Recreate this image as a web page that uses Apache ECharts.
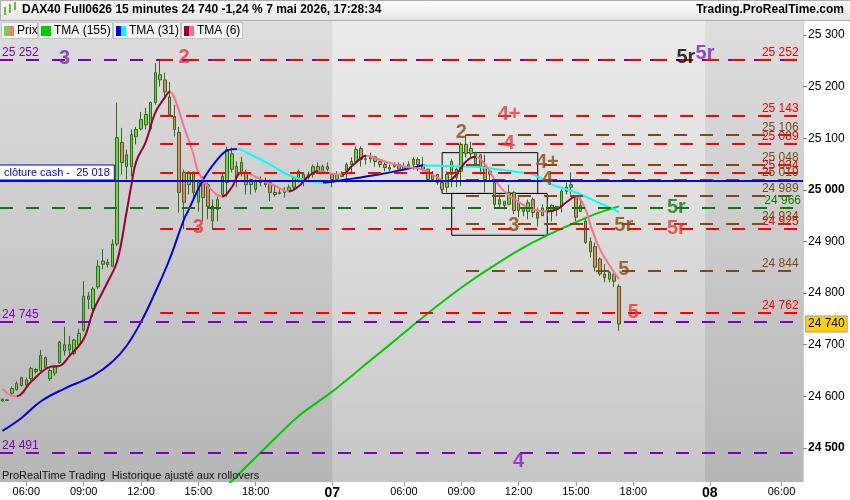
<!DOCTYPE html>
<html><head><meta charset="utf-8">
<script src="https://cdn.jsdelivr.net/npm/echarts@6/dist/echarts.min.js"></script>
<style>html,body{margin:0;padding:0;background:#fff}#c{width:850px;height:500px}</style>
</head><body><div id="c"></div>
<script>
// ---------- DATA ----------
const sessions = [
  { day: '06', start: '04:45', end: '21:45' },
  { day: '07', start: '02:15', end: '21:45' },
  { day: '08', start: '02:15', end: '07:00' }
];
const shownTimes = ['06:00', '09:00', '12:00', '15:00', '18:00'];
const priceTicks = [24500, 24600, 24700, 24800, 24900, 25000, 25100, 25200, 25300];

const open = [24591,24592,24606,24613,24636,24622,24634,24652,24650,24675,24634,24645,24665,24700,24690,24683,24700,24728,24794,24770,24812,24856,24860,24852,24895,25092,25045,25045,25103,25118,25126,25118,25169,25213,25213,25180,25142,25111,25034,25010,25034,24976,25014,25010,24968,24962,24991,25014,25040,25045,25034,25034,25010,25001,25014,25018,25014,24995,24993,24995,24999,25005,25018,25030,25024,25030,25045,25036,25045,25030,25020,25030,25036,25049,25055,25080,25059,25060,25064,25055,25049,25043,25045,25049,25040,25045,25049,25059,25049,25040,25020,25030,25014,25005,25030,25040,25036,25088,25070,25050,25068,25045,25030,25014,24972,24978,24972,24995,24960,24965,24958,24981,24956,24950,24965,24958,24968,24968,24997,25005,24987,24958,24939,24900,24890,24866,24837,24827,24837,24813];
const close = [24594,24593,24615,24625,24621,24632,24654,24648,24679,24655,24650,24657,24705,24688,24700,24709,24722,24794,24788,24808,24852,24862,24855,24895,25101,25053,25068,25107,25117,25136,25146,25169,25227,25223,25190,25146,25117,24995,24976,25034,24995,25014,24985,24968,24940,24981,25026,25078,25070,25024,25053,25010,25020,25016,25018,25010,24995,24991,24995,24999,25005,25024,25036,25020,25030,25045,25036,25045,25040,25020,25030,25026,25049,25055,25078,25059,25060,25064,25055,25049,25043,25040,25049,25040,25045,25049,25059,25049,25040,25020,25030,25014,25001,25030,25055,25024,25088,25070,25080,25072,25045,25020,25036,24972,24981,24970,24995,24960,24975,24958,24975,24956,24945,24965,24958,24970,24962,24997,25005,25010,24947,24970,24898,24880,24850,24837,24830,24840,24823,24740];
const low = [24589,24591,24602,24611,24619,24619,24630,24644,24648,24652,24630,24640,24663,24679,24679,24679,24698,24725,24769,24754,24808,24846,24850,24850,24891,25030,25020,25026,25088,25115,25117,25115,25165,25200,25175,25142,25103,24956,24924,24991,24978,24958,24939,24943,24924,24939,24987,24987,25034,25005,25026,24991,24991,24995,25007,25005,24978,24987,24991,24985,24997,25001,25014,25007,25020,25024,25034,25034,25036,25005,25020,25024,25014,25034,25053,25045,25049,25053,25045,25043,25036,25036,25043,25036,25039,25043,25039,25036,25036,25016,25020,25010,24997,24995,25005,25005,25007,25063,25063,25043,25030,24995,25016,24966,24966,24962,24970,24953,24947,24949,24943,24947,24929,24949,24949,24939,24949,24956,24991,24991,24939,24958,24895,24869,24842,24833,24821,24821,24812,24727];
const high = [24596,24594,24619,24629,24638,24636,24657,24655,24690,24677,24654,24659,24707,24735,24717,24711,24731,24823,24802,24812,24864,24885,24866,24904,25169,25120,25078,25117,25122,25151,25159,25171,25246,25252,25227,25209,25165,25122,25039,25036,25036,25020,25026,25014,24981,24987,25034,25084,25082,25055,25064,25039,25022,25020,25026,25024,25020,25007,25001,25005,25010,25026,25039,25034,25036,25049,25053,25049,25053,25030,25036,25036,25053,25063,25084,25084,25068,25072,25064,25055,25053,25049,25053,25053,25053,25055,25063,25063,25064,25040,25036,25030,25020,25036,25059,25043,25092,25107,25093,25074,25068,25068,25043,25016,24991,24978,25010,24997,24987,24966,24981,24985,24966,24972,24978,24972,24968,25001,25014,25034,24987,24985,24947,24908,24898,24869,24856,24842,24837,24817];

// moving averages: [slot, value]
const tma155 = [[44,24400],[48,24436],[55,24500],[62,24562],[69,24609],[76,24662],[83,24715],[90,24768],[97,24817],[104,24860],[111,24898],[118,24929],[124,24953],[129,24968]];
const tma31 = [[0,24533],[4,24558],[8,24590],[13,24615],[19,24640],[23,24667],[26,24698],[29,24744],[32,24802],[35,24866],[38,24943],[39,24962],[42,25020],[45,25059],[47,25076],[49,25079],[52,25068],[56,25049],[60,25028],[64,25018],[67,25014],[72,25020],[79,25030],[86,25043],[88,25047],[97,25045],[101,25043],[108,25034],[111,25030],[115,25010],[118,25001],[121,24991],[125,24974],[127,24966],[129,24957]];
const tma6 = [[0,24615],[2,24601],[3,24600],[6,24628],[10,24657],[12,24659],[14,24678],[17,24711],[19,24765],[22,24821],[24,24861],[26,24958],[27,25010],[28,25055],[30,25093],[32,25150],[34,25179],[35,25190],[36,25178],[38,25122],[40,25068],[41,25034],[43,25007],[46,24987],[48,25005],[50,25034],[52,25030],[54,25020],[57,25008],[60,24997],[62,25007],[64,25026],[66,25036],[68,25033],[71,25029],[73,25045],[75,25061],[76,25066],[80,25055],[84,25045],[88,25039],[91,25024],[93,25016],[95,25030],[97,25055],[99,25064],[101,25049],[103,25020],[105,24997],[108,24976],[111,24962],[114,24958],[116,24962],[118,24976],[120,24987],[122,24962],[123,24933],[125,24885],[127,24854],[129,24827]];

// horizontal levels
const purpleLevels = [25252, 24745, 24491];
const greenLevels = [24966];
const redLevels = [25252, 25143, 25089, 25034, 24925, 24762];
const brownLevels = [25106, 25048, 25019, 24989, 24934, 24844];
const redStartSlot = 33;
const brownStartSlot = 97;
const cashClose = 25018;
const lastPrice = 24740;

// annotations [slot, price, text]
const purpleMarks = [[13, 25254, '3'], [108, 24474, '4'], [147, 25264, '5r']];
const redMarks = [[38, 25256, '2'], [41, 24927, '3'], [106, 25146, '4+'], [106, 25090, '4'], [141, 24925, '5r'], [132, 24763, '5']];
const brownMarks = [[96, 25111, '2'], [114, 25053, '4+'], [114, 25020, '4'], [107, 24931, '3'], [130, 24931, '5r'], [130, 24846, '5']];
const greenMarks = [[141, 24966, '5r']];
const blackMarks = [[143, 25256, '5r']];
// boxes [slotLeft, priceTop, slotRight, priceBottom]
const boxes = [[92, 25072, 112, 24993], [94, 24993, 114, 24912]];

// ---------- BUILD ----------
const FONT = '"Liberation Sans", Arial, sans-serif';
const C = { red: '#ff0000', redTxt: '#ee3333', brown: '#8b4513', brownTxt: '#8b4a10', purple: '#7f00bf', purpleTxt: '#8020c0', green: '#0a7a0a', greenTxt: '#117711', blue: '#0000ff' };
const fmt = v => String(v).replace(/\B(?=(\d{3})+(?!\d))/g, ' ');

const categories = [];
sessions.forEach((s, si) => {
  let [h, m] = s.start.split(':').map(Number);
  const [eh, em] = s.end.split(':').map(Number);
  let first = true;
  while (h * 60 + m <= eh * 60 + em) {
    const t = String(h).padStart(2, '0') + ':' + String(m).padStart(2, '0');
    categories.push(s.day + ' ' + t + (first && si > 0 ? ' D' : ''));
    first = false; m += 15; if (m >= 60) { m -= 60; h++; }
  }
});
const lastSlot = categories.length - 1;
const isShown = (i, v) => { const p = v.split(' '); return p[2] === 'D' || shownTimes.includes(p[1]); };

const ohlc = open.map((o, i) => [o, close[i], low[i], high[i]]);

function slopePieces(pts, up, down) {
  const pieces = [];
  for (let i = 0; i < pts.length - 1; i++) {
    const col = pts[i + 1][1] >= pts[i][1] ? up : down;
    const last = pieces[pieces.length - 1];
    if (last && last.color === col) last.lt = pts[i + 1][0];
    else pieces.push({ gte: pts[i][0], lt: pts[i + 1][0], color: col });
  }
  const lp = pieces[pieces.length - 1]; delete lp.lt;
  pieces[0].gte = -1000;
  return pieces;
}

function levelSeries(levels, color, startSlot, labelPos, labelColor) {
  return {
    type: 'line', data: [], z: 5, silent: true,
    markLine: {
      silent: true, symbol: ['none', 'none'], animation: false,
      lineStyle: { color, width: 2, type: [13, 13] },
      label: { show: true, position: labelPos, color: labelColor || color, fontSize: 12, fontFamily: FONT, distance: [2, 1] },
      data: levels.map(v => startSlot == null
        ? { yAxis: v, label: { formatter: fmt(v) } }
        : [{ coord: [startSlot, v], label: { formatter: fmt(v) } }, { coord: [lastSlot, v] }])
    }
  };
}
function markSeries(marks, color) {
  return {
    type: 'scatter', symbolSize: 0, silent: true, z: 20, animation: false,
    data: marks.map(m => ({ value: [m[0], m[1]], label: { formatter: m[2] } })),
    label: { show: true, position: 'inside', color, fontSize: 20, fontWeight: 'bold', fontFamily: FONT }
  };
}

const series = [
  { // day shading
    type: 'line', data: [], z: 0, silent: true,
    markArea: { silent: true, itemStyle: { color: { type: 'linear', x: 0, y: 0, x2: 0, y2: 1, colorStops: [{ offset: 0, color: 'rgba(255,255,255,0.4)' }, { offset: 1, color: 'rgba(255,255,255,0.22)' }] } },
      data: [[{ xAxis: 69 }, { xAxis: 147 }]] }
  },
  {
    type: 'candlestick', name: 'Prix', data: ohlc, barWidth: 3, z: 2,
    itemStyle: { color: '#6fd34a', color0: '#f08070', borderColor: '#2f6b1c', borderColor0: '#2f6b1c', borderWidth: 1 }
  },
  { type: 'line', name: 'TMA (155)', data: tma155, smooth: 0.3, symbol: 'none', z: 3, lineStyle: { width: 2, color: '#00cc00' } },
  { type: 'line', name: 'TMA (31)', data: tma31, smooth: 0.4, symbol: 'none', z: 3, lineStyle: { width: 2 } },
  { type: 'line', name: 'TMA (6)', data: tma6, smooth: 0.4, symbol: 'none', z: 3, lineStyle: { width: 2 } },
  levelSeries(purpleLevels, C.purple, null, 'insideStartTop'),
  levelSeries(greenLevels, C.green, null, 'insideEndTop'),
  levelSeries(redLevels, C.red, redStartSlot, 'insideEndTop'),
  levelSeries(brownLevels, C.brown, brownStartSlot, 'insideEndTop', '#7a4a1a'),
  { // cash close
    type: 'line', data: [], z: 6, silent: true,
    markLine: { silent: true, symbol: ['none', 'none'], lineStyle: { color: C.blue, width: 2, type: 'solid' },
      label: { show: true, position: 'insideStartTop', formatter: 'clôture cash -  ' + fmt(cashClose), color: C.blue, fontSize: 11, fontFamily: FONT, backgroundColor: '#fff', borderColor: C.blue, borderWidth: 1, padding: [2, 4, 1, 4], distance: [0, 1] },
      data: [{ yAxis: cashClose }] }
  },
  { // last price tag
    type: 'line', data: [], z: 30, silent: true,
    markLine: { silent: true, symbol: ['none', 'none'], lineStyle: { color: 'rgba(0,0,0,0)', width: 1 },
      label: { show: true, position: 'end', formatter: fmt(lastPrice), backgroundColor: '#ffd000', borderColor: '#a0a0a0', borderWidth: 1, padding: [2, 2, 1, 2], color: '#000', fontSize: 12, fontFamily: FONT, distance: 3 },
      data: [{ yAxis: lastPrice }] }
  },
  { // boxes
    type: 'line', data: [], z: 7, silent: true,
    markArea: { silent: true, itemStyle: { color: 'rgba(0,0,0,0)', borderColor: '#000', borderWidth: 1 },
      data: boxes.map(b => [{ coord: [b[0], b[1]] }, { coord: [b[2], b[3]] }]) }
  },
  markSeries(purpleMarks, C.purpleTxt),
  markSeries(redMarks, C.redTxt),
  markSeries(brownMarks, C.brownTxt),
  markSeries(greenMarks, C.greenTxt),
  markSeries(blackMarks, '#000')
];

const legendItems = [
  { x: 1, w: 36, text: 'Prix', c1: '#6fd34a', c2: '#f08070' },
  { x: 38, w: 74, text: 'TMA (155)', c1: '#00cc00', c2: '#00cc00' },
  { x: 113, w: 67, text: 'TMA (31)', c1: '#0000ff', c2: '#00ffff' },
  { x: 181, w: 61, text: 'TMA (6)', c1: '#990033', c2: '#ff6f91' }
];
const graphic = [
  { type: 'rect', left: 0, top: 0, shape: { width: 850, height: 20 }, style: { fill: { type: 'linear', x: 0, y: 0, x2: 0, y2: 1, colorStops: [{ offset: 0, color: '#fdfdfd' }, { offset: 1, color: '#e4e4e4' }] }, stroke: '#b0b0b0', lineWidth: 1 }, z: 100 },
  { type: 'rect', shape: { x: 4, y: 7, width: 2, height: 8 }, style: { fill: '#5cc13a' }, z: 101 },
  { type: 'rect', shape: { x: 9, y: 4, width: 2, height: 9 }, style: { fill: '#5cc13a' }, z: 101 },
  { type: 'rect', shape: { x: 14, y: 2, width: 2, height: 8 }, style: { fill: '#5cc13a' }, z: 101 },
  { type: 'text', x: 22, y: 10, style: { text: 'DAX40 Full0626 15 minutes 24 740 -1,24 % 7 mai 2026, 17:28:34', font: 'bold 12px ' + FONT, fill: '#000', textVerticalAlign: 'middle' }, z: 101 },
  { type: 'text', x: 844, y: 10, style: { text: 'Trading.ProRealTime.com', font: 'bold 12px ' + FONT, fill: '#000', textAlign: 'right', textVerticalAlign: 'middle' }, z: 101 },
  { type: 'text', x: 2, y: 476, style: { text: 'ProRealTime Trading  Historique ajusté aux rollovers', font: '11px ' + FONT, fill: '#111', textVerticalAlign: 'middle' }, z: 50 }
];
legendItems.forEach(l => {
  graphic.push({ type: 'rect', shape: { x: l.x + 0.5, y: 22.5, width: l.w, height: 16 }, style: { fill: '#f3f3f3', stroke: '#c4c4c4' }, z: 100 });
  graphic.push({ type: 'rect', shape: { x: l.x + 3, y: 26, width: 5, height: 10 }, style: { fill: l.c1 }, z: 101 });
  graphic.push({ type: 'rect', shape: { x: l.x + 8, y: 26, width: 5, height: 10 }, style: { fill: l.c2 }, z: 101 });
  graphic.push({ type: 'text', x: l.x + 16, y: 31, style: { text: l.text, font: '12px ' + FONT, fill: '#000', textVerticalAlign: 'middle' }, z: 101 });
});

const chart = echarts.init(document.getElementById('c'), null, { renderer: 'canvas' });
chart.setOption({
  animation: false,
  backgroundColor: '#fff',
  textStyle: { fontFamily: FONT },
  grid: { left: 0, right: 47, top: 20, bottom: 17, show: true, borderWidth: 0,
    backgroundColor: { type: 'linear', x: 0, y: 0, x2: 0, y2: 1, colorStops: [{ offset: 0, color: '#dedede' }, { offset: 1, color: '#b6b6b6' }] } },
  xAxis: {
    type: 'category', data: categories, boundaryGap: true,
    axisLine: { show: false },
    axisTick: { show: true, alignWithLabel: true, interval: isShown, length: 4, lineStyle: { color: '#999' } },
    axisLabel: { interval: isShown, color: '#000', fontSize: 11, margin: 4, fontFamily: FONT,
      formatter: v => { const p = v.split(' '); return p[2] === 'D' ? '{d|' + p[0] + '}' : p[1]; },
      rich: { d: { fontWeight: 'bold', fontSize: 14, fontFamily: FONT } } },
    splitLine: { show: false }
  },
  yAxis: {
    type: 'value', position: 'right', min: 24434, max: 25329,
    axisLine: { show: true, lineStyle: { color: '#d0d0d0' } }, splitLine: { show: false },
    axisTick: { show: true, length: 4, lineStyle: { color: '#888' }, customValues: priceTicks },
    axisLabel: { customValues: priceTicks, color: '#000', fontSize: 12, margin: 5, fontFamily: FONT,
      formatter: v => v % 500 === 0 ? '{b|' + fmt(v) + '}' : fmt(v),
      rich: { b: { fontWeight: 'bold', fontSize: 12, fontFamily: FONT } } }
  },
  visualMap: [
    { type: 'piecewise', show: false, dimension: 0, seriesIndex: 3, pieces: slopePieces(tma31, '#0000dd', '#00ffff') },
    { type: 'piecewise', show: false, dimension: 0, seriesIndex: 4, pieces: slopePieces(tma6, '#990033', '#ff6f91') }
  ],
  graphic,
  series
});
</script></body></html>
